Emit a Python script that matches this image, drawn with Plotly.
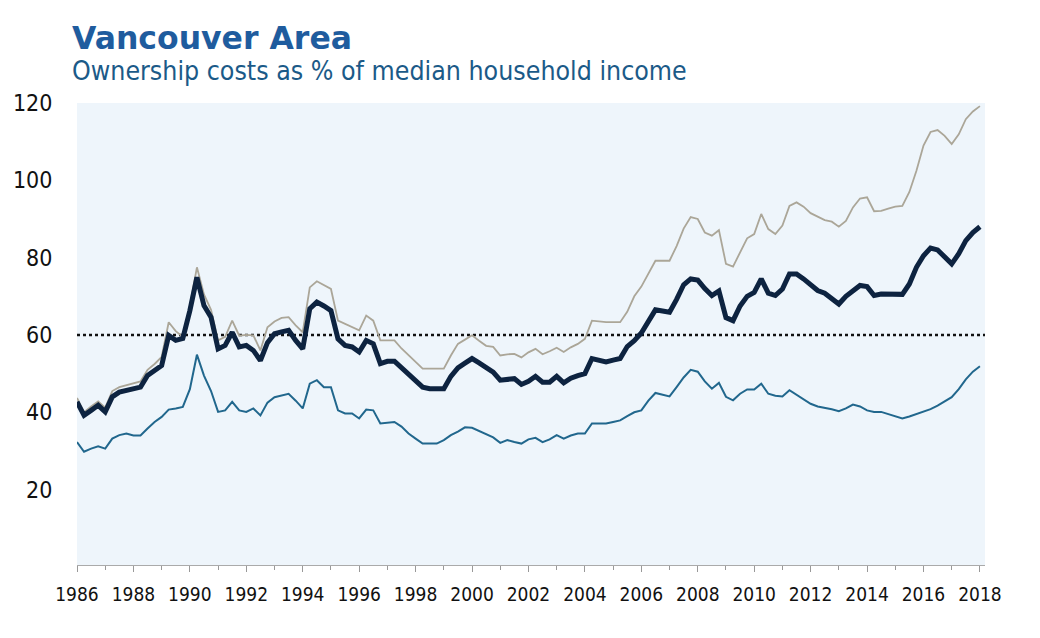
import plotly.graph_objects as go

# Quarterly observations, 1986 Q1 .. 2018 Q1
years = list(range(1986, 2019))
quarters = [y + q / 4 for y in years for q in range(4)][:129]

# Thick navy line
aggregate = [
    42.7, 39.2, 40.5, 41.8,
    40.1, 44.0, 45.2, 45.7,
    46.0, 46.5, 49.5, 51.0,
    52.1, 59.9, 58.6, 59.1,
    66.3, 74.9, 67.6, 64.6,
    56.4, 57.3, 60.7, 56.9,
    57.3, 56.0, 53.4, 58.0,
    60.3, 60.8, 61.2, 58.6,
    56.4, 66.8, 68.5, 67.5,
    66.3, 59.0, 57.3, 56.9,
    55.6, 58.6, 57.7, 52.6,
    53.2, 53.2, 51.5, 49.5,
    48.0, 46.5, 46.1, 46.1,
    46.1, 49.3, 51.5, 52.7,
    53.9, 52.8, 51.5, 50.4,
    48.3, 48.6, 48.7, 47.2,
    48.0, 49.3, 47.8, 47.8,
    49.3, 47.6, 48.8, 49.5,
    50.0, 53.9, 53.5, 53.0,
    53.5, 53.9, 57.0, 58.5,
    60.5, 63.5, 66.5, 66.2,
    65.9, 69.2, 73.0, 74.5,
    74.2, 72.0, 70.2, 71.4,
    64.5, 63.7, 67.5, 70.0,
    71.0, 74.5, 70.8, 70.2,
    71.9, 75.8, 75.8, 74.5,
    73.0, 71.5, 70.8, 69.5,
    68.0, 70.0, 71.5, 72.8,
    72.5, 70.2, 70.6, 70.6,
    70.6, 70.5, 73.2, 77.5,
    80.5, 82.5, 82.0, 80.0,
    78.4, 81.0, 84.4, 86.5,
    88.0,
]

# Thin grey line (top)
detached = [
    43.7, 40.0, 41.5, 42.8,
    41.2, 45.5, 46.5, 47.0,
    47.5, 48.0, 51.0, 52.5,
    54.3, 63.3, 61.0, 59.5,
    67.5, 77.5, 70.5, 66.5,
    58.6, 59.5, 63.7, 59.8,
    60.0, 59.9, 56.0, 62.0,
    63.5, 64.4, 64.6, 62.5,
    60.7, 72.3, 73.9, 73.0,
    71.9, 63.7, 62.8, 62.0,
    61.2, 65.0, 63.7, 58.6,
    58.6, 58.6, 56.5, 54.8,
    53.0, 51.3, 51.3, 51.3,
    51.3, 54.7, 57.7, 58.8,
    59.9, 58.5, 57.2, 56.9,
    54.7, 55.0, 55.1, 54.2,
    55.5, 56.4, 55.0, 55.8,
    56.7, 55.6, 56.8, 57.7,
    59.0, 63.7, 63.5, 63.3,
    63.3, 63.3, 66.0, 70.0,
    72.5, 76.0, 79.2, 79.2,
    79.2, 83.0, 87.5, 90.5,
    90.0, 86.5, 85.7, 87.1,
    78.4, 77.7, 81.5, 85.0,
    86.1, 91.3, 87.4, 86.1,
    88.3, 93.4, 94.3, 93.2,
    91.5, 90.6, 89.7, 89.3,
    88.0, 89.5, 93.0, 95.3,
    95.6, 92.0, 92.1, 92.7,
    93.2, 93.4, 97.0, 102.5,
    109.0, 112.5, 113.0, 111.5,
    109.4, 111.9, 115.8, 117.8,
    119.2,
]

# Thin blue line (bottom)
condo = [
    32.3, 29.8, 30.6, 31.2,
    30.6, 33.2, 34.1, 34.5,
    34.0, 34.0, 35.8, 37.5,
    38.8, 40.7, 41.0, 41.4,
    46.0, 54.9, 49.5, 45.5,
    40.1, 40.5, 42.7, 40.5,
    40.1, 41.0, 39.2, 42.5,
    43.9, 44.3, 44.8, 43.0,
    41.0, 47.4, 48.3, 46.5,
    46.5, 40.5, 39.7, 39.7,
    38.4, 40.7, 40.5, 37.1,
    37.3, 37.5, 36.3, 34.5,
    33.2, 31.9, 31.9, 31.9,
    32.8, 34.1, 35.0, 36.1,
    36.0, 35.2, 34.5, 33.5,
    32.1, 32.8, 32.3, 31.9,
    33.0, 33.4, 32.3, 33.0,
    34.1, 33.2, 34.0, 34.5,
    34.5, 37.1, 37.1, 37.1,
    37.5, 37.9, 39.0, 40.0,
    40.5, 43.0, 45.0, 44.5,
    44.1, 46.5, 49.0, 51.0,
    50.5, 48.0, 46.1, 47.6,
    44.0, 43.1, 44.8, 45.9,
    45.9, 47.4, 44.8, 44.3,
    44.1, 45.7, 44.5, 43.5,
    42.2, 41.5, 41.2, 40.8,
    40.3, 41.0, 42.0, 41.5,
    40.5, 40.1, 40.1, 39.5,
    38.8, 38.4, 38.9, 39.5,
    40.3, 40.8, 41.7, 42.8,
    43.9, 46.0, 48.5, 50.5,
    51.9,
]

reference_level = 60
y_ticks = [20, 40, 60, 80, 100, 120]
x_label_years = list(range(1986, 2019, 2))

FONT = "DejaVu Sans Condensed, DejaVu Sans, sans-serif"

fig = go.Figure()
fig.add_trace(go.Scatter(x=quarters, y=detached, mode="lines",
                         line=dict(color="#aba698", width=1.8), hoverinfo="skip"))
fig.add_trace(go.Scatter(x=quarters, y=condo, mode="lines",
                         line=dict(color="#21678d", width=2), hoverinfo="skip"))
fig.add_trace(go.Scatter(x=quarters, y=aggregate, mode="lines",
                         line=dict(color="#0d2340", width=5), hoverinfo="skip"))

fig.add_shape(type="line", xref="paper", yref="y", x0=0, x1=1,
              y0=reference_level, y1=reference_level,
              line=dict(color="#111111", width=2.5, dash="dot"), layer="below")

# page body adds an 8px offset, so the figure is 8px smaller and margins shifted
fig.update_layout(
    width=1032, height=630,
    margin=dict(l=69, r=55, t=95, b=73),
    paper_bgcolor="white",
    plot_bgcolor="#eef5fb",
    showlegend=False,
    font=dict(family=FONT, color="#111111"),
    annotations=[
        dict(text="<b>Vancouver Area</b>", xref="paper", yref="paper",
             x=-0.008, y=1.1407, xanchor="left", yanchor="middle", showarrow=False,
             font=dict(family="DejaVu Sans, sans-serif", size=31.5, color="#1f5c9e")),
        dict(text="Ownership costs as % of median household income", xref="paper", yref="paper",
             x=-0.008, y=1.0714, xanchor="left", yanchor="middle", showarrow=False,
             font=dict(family=FONT, size=26.5, color="#1b5a88")),
    ],
)

fig.update_xaxes(
    range=[1986, 2018.18],
    tickvals=x_label_years,
    ticktext=[str(y) for y in x_label_years],
    ticks="outside", ticklen=6, tickcolor="#999999",
    minor=dict(dtick=1, tick0=1986, ticks="outside", ticklen=4, tickcolor="#999999"),
    showline=True, linecolor="#aaaaaa", linewidth=1,
    showgrid=False, zeroline=False, automargin=False,
    ticklabelstandoff=6,
    tickfont=dict(family=FONT, size=19, color="#111111"),
)
fig.update_yaxes(
    range=[0.5, 120],
    tickvals=y_ticks,
    ticks="outside", ticklen=19, tickcolor="rgba(0,0,0,0)",
    showline=False, showgrid=False, zeroline=False, automargin=False,
    tickfont=dict(family=FONT, size=23, color="#111111"),
)

fig.write_html("out.html")
